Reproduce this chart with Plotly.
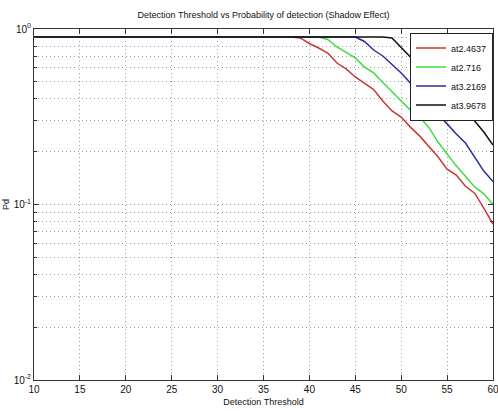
import plotly.graph_objects as go

# Detection threshold values (x axis)
threshold = [10, 11, 12, 13, 14, 15, 16, 17, 18, 19,
             20, 21, 22, 23, 24, 25, 26, 27, 28, 29,
             30, 31, 32, 33, 34, 35, 36, 37, 38, 39,
             40, 41, 42, 43, 44, 45, 46, 47, 48, 49,
             50, 51, 52, 53, 54, 55, 56, 57, 58, 59, 60]

# Probability of detection
pd_at_2_4637 = [0.9, 0.9, 0.9, 0.9, 0.9, 0.9, 0.9, 0.9, 0.9, 0.9,
                0.9, 0.9, 0.9, 0.9, 0.9, 0.9, 0.9, 0.9, 0.9, 0.9,
                0.9, 0.9, 0.9, 0.9, 0.9, 0.9, 0.9, 0.9, 0.9, 0.889,
                0.827, 0.779, 0.730, 0.640, 0.592, 0.533, 0.492, 0.452, 0.389, 0.341,
                0.315, 0.276, 0.246, 0.215, 0.187, 0.159, 0.147, 0.127, 0.116, 0.0955, 0.0774]

pd_at_2_716 = [0.9, 0.9, 0.9, 0.9, 0.9, 0.9, 0.9, 0.9, 0.9, 0.9,
               0.9, 0.9, 0.9, 0.9, 0.9, 0.9, 0.9, 0.9, 0.9, 0.9,
               0.9, 0.9, 0.9, 0.9, 0.9, 0.9, 0.9, 0.9, 0.9, 0.9,
               0.9, 0.9, 0.871, 0.790, 0.735, 0.684, 0.607, 0.562, 0.496, 0.440,
               0.389, 0.345, 0.315, 0.276, 0.227, 0.194, 0.166, 0.145, 0.126, 0.115, 0.100]

pd_at_3_2169 = [0.9, 0.9, 0.9, 0.9, 0.9, 0.9, 0.9, 0.9, 0.9, 0.9,
                0.9, 0.9, 0.9, 0.9, 0.9, 0.9, 0.9, 0.9, 0.9, 0.9,
                0.9, 0.9, 0.9, 0.9, 0.9, 0.9, 0.9, 0.9, 0.9, 0.9,
                0.9, 0.9, 0.9, 0.9, 0.9, 0.9, 0.849, 0.759, 0.702, 0.632,
                0.562, 0.492, 0.426, 0.389, 0.328, 0.288, 0.252, 0.224, 0.187, 0.155, 0.135]

pd_at_3_9678 = [0.9, 0.9, 0.9, 0.9, 0.9, 0.9, 0.9, 0.9, 0.9, 0.9,
                0.9, 0.9, 0.9, 0.9, 0.9, 0.9, 0.9, 0.9, 0.9, 0.9,
                0.9, 0.9, 0.9, 0.9, 0.9, 0.9, 0.9, 0.9, 0.9, 0.9,
                0.9, 0.9, 0.9, 0.9, 0.9, 0.9, 0.9, 0.9, 0.9, 0.889,
                0.790, 0.693, 0.607, 0.565, 0.499, 0.405, 0.364, 0.332, 0.299, 0.259, 0.218]

series_names = ["at2.4637", "at2.716", "at3.2169", "at3.9678"]
series_values = [pd_at_2_4637, pd_at_2_716, pd_at_3_2169, pd_at_3_9678]
series_colors = ["#c43a35", "#3fdc3f", "#2c2c9c", "#111111"]

x_ticks = [10, 15, 20, 25, 30, 35, 40, 45, 50, 55, 60]
y_tick_vals = [0.01, 0.1, 1]
y_tick_text = ["10<sup>-2</sup>", "10<sup>-1</sup>", "10<sup>0</sup>"]

FONT = "Liberation Sans Narrow, Liberation Sans, Arial, sans-serif"

fig = go.Figure()
for name, vals, col in zip(series_names, series_values, series_colors):
    fig.add_trace(go.Scatter(x=threshold, y=vals, mode="lines", name=name,
                             line=dict(color=col, width=1.5)))

grid_col = "#a0a0a0"
grid_dash = "1px,3px"
fig.update_layout(
    width=498, height=411,
    margin=dict(l=34, r=5, t=29, b=31, autoexpand=False),
    paper_bgcolor="white", plot_bgcolor="white",
    font=dict(family=FONT, size=9, color="#111"),
    title=dict(text="Detection Threshold vs Probability of detection (Shadow Effect)",
               x=0.5, xref="paper", xanchor="center", y=0.963, yanchor="middle",
               font=dict(family=FONT, size=9, color="#111")),
    showlegend=True,
    legend=dict(x=1.0, xanchor="right", y=0.99, yanchor="top",
                bgcolor="white", bordercolor="#222", borderwidth=1,
                font=dict(family=FONT, size=9, color="#111"),
                itemwidth=30, tracegroupgap=0),
)
fig.update_xaxes(
    range=[10, 60], tickvals=x_ticks, ticktext=[str(v) for v in x_ticks],
    ticks="inside", ticklen=5, tickcolor="#333", mirror="allticks",
    showline=True, linecolor="#333", linewidth=1,
    showgrid=True, gridcolor=grid_col, griddash=grid_dash, gridwidth=1,
    zeroline=False, ticklabeloverflow="allow", automargin=False,
    title=dict(text="Detection Threshold", standoff=4, font=dict(family=FONT, size=9)),
    tickfont=dict(family=FONT, size=10),
)
fig.update_yaxes(
    type="log", range=[-2, 0], tickvals=y_tick_vals, ticktext=y_tick_text,
    ticks="inside", ticklen=5, tickcolor="#333", mirror="allticks",
    showline=True, linecolor="#333", linewidth=1,
    showgrid=True, gridcolor=grid_col, griddash=grid_dash, gridwidth=1,
    minor=dict(dtick="D1", showgrid=True, gridcolor=grid_col, griddash=grid_dash,
               ticks="inside", ticklen=3, tickcolor="#333"),
    zeroline=False, ticklabeloverflow="allow", automargin=False,
    title=dict(text="Pd", standoff=2, font=dict(family=FONT, size=9)),
    tickfont=dict(family=FONT, size=10),
)

fig.write_html("out.html")
